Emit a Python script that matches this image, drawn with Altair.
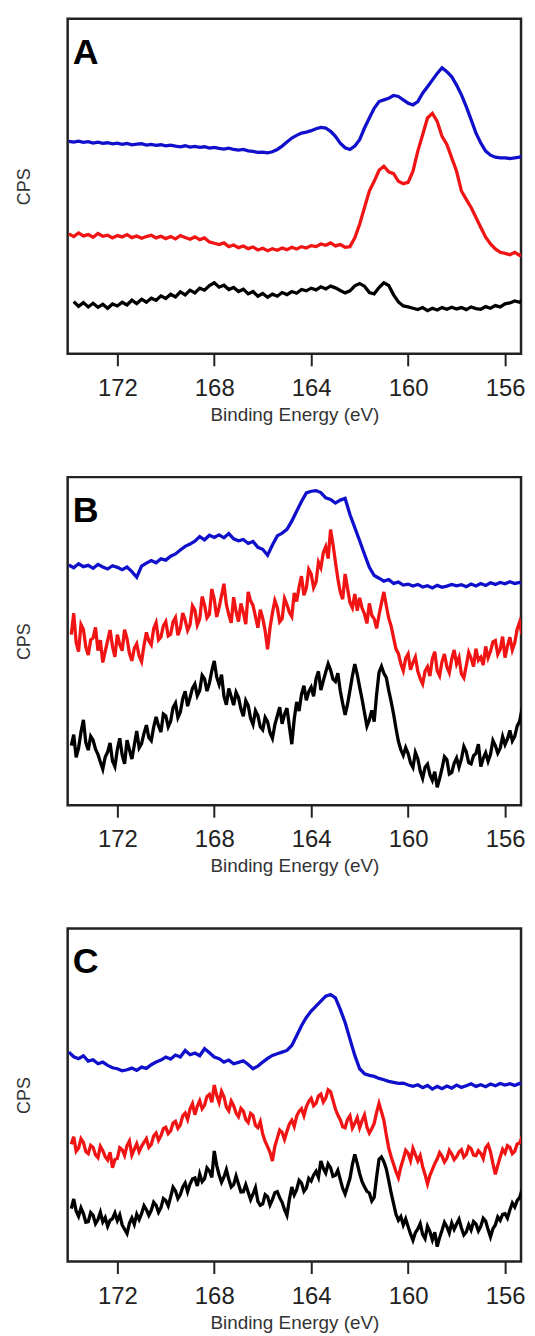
import altair as alt
import pandas as pd

# Binding energy grid (eV), 0.2 eV steps
energy = [174.0, 173.8, 173.6, 173.4, 173.2, 173.0, 172.8, 172.6, 172.4, 172.2,
          172.0, 171.8, 171.6, 171.4, 171.2, 171.0, 170.8, 170.6, 170.4, 170.2,
          170.0, 169.8, 169.6, 169.4, 169.2, 169.0, 168.8, 168.6, 168.4, 168.2,
          168.0, 167.8, 167.6, 167.4, 167.2, 167.0, 166.8, 166.6, 166.4, 166.2,
          166.0, 165.8, 165.6, 165.4, 165.2, 165.0, 164.8, 164.6, 164.4, 164.2,
          164.0, 163.8, 163.6, 163.4, 163.2, 163.0, 162.8, 162.6, 162.4, 162.2,
          162.0, 161.8, 161.6, 161.4, 161.2, 161.0, 160.8, 160.6, 160.4, 160.2,
          160.0, 159.8, 159.6, 159.4, 159.2, 159.0, 158.8, 158.6, 158.4, 158.2,
          158.0, 157.8, 157.6, 157.4, 157.2, 157.0, 156.8, 156.6, 156.4, 156.2,
          156.0, 155.8, 155.6, 155.4, 155.2, 155.0]

# Binding energy grid (eV), 0.1 eV steps (noisier scans)
energy_fine = [
    174.0, 173.9, 173.8, 173.7, 173.6, 173.5, 173.4, 173.3, 173.2, 173.1,
    173.0, 172.9, 172.8, 172.7, 172.6, 172.5, 172.4, 172.3, 172.2, 172.1,
    172.0, 171.9, 171.8, 171.7, 171.6, 171.5, 171.4, 171.3, 171.2, 171.1,
    171.0, 170.9, 170.8, 170.7, 170.6, 170.5, 170.4, 170.3, 170.2, 170.1,
    170.0, 169.9, 169.8, 169.7, 169.6, 169.5, 169.4, 169.3, 169.2, 169.1,
    169.0, 168.9, 168.8, 168.7, 168.6, 168.5, 168.4, 168.3, 168.2, 168.1,
    168.0, 167.9, 167.8, 167.7, 167.6, 167.5, 167.4, 167.3, 167.2, 167.1,
    167.0, 166.9, 166.8, 166.7, 166.6, 166.5, 166.4, 166.3, 166.2, 166.1,
    166.0, 165.9, 165.8, 165.7, 165.6, 165.5, 165.4, 165.3, 165.2, 165.1,
    165.0, 164.9, 164.8, 164.7, 164.6, 164.5, 164.4, 164.3, 164.2, 164.1,
    164.0, 163.9, 163.8, 163.7, 163.6, 163.5, 163.4, 163.3, 163.2, 163.1,
    163.0, 162.9, 162.8, 162.7, 162.6, 162.5, 162.4, 162.3, 162.2, 162.1,
    162.0, 161.9, 161.8, 161.7, 161.6, 161.5, 161.4, 161.3, 161.2, 161.1,
    161.0, 160.9, 160.8, 160.7, 160.6, 160.5, 160.4, 160.3, 160.2, 160.1,
    160.0, 159.9, 159.8, 159.7, 159.6, 159.5, 159.4, 159.3, 159.2, 159.1,
    159.0, 158.9, 158.8, 158.7, 158.6, 158.5, 158.4, 158.3, 158.2, 158.1,
    158.0, 157.9, 157.8, 157.7, 157.6, 157.5, 157.4, 157.3, 157.2, 157.1,
    157.0, 156.9, 156.8, 156.7, 156.6, 156.5, 156.4, 156.3, 156.2, 156.1,
    156.0, 155.9, 155.8, 155.7, 155.6, 155.5, 155.4, 155.3, 155.2, 155.1,
    155.0]

# ---- Panel A ----
a_blue = [63.4, 63.2, 63.5, 63.1, 63.3, 62.9, 63.2, 62.8, 63.0, 62.7, 62.9,
          62.5, 62.8, 62.4, 62.6, 62.7, 62.3, 62.5, 62.2, 62.4, 62.1,
          62.3, 62.0, 61.8, 62.1, 61.7, 61.9, 61.6, 61.8, 61.4, 61.6,
          61.3, 61.1, 61.4, 61.0, 60.8, 61.0, 60.6, 60.4, 60.1, 60.2,
          60.0, 60.3, 61.0, 62.0, 63.2, 64.4, 65.2, 65.9, 66.2, 66.6,
          67.2, 67.6, 67.4, 66.4, 64.9, 62.9, 61.5, 61.0, 62.0, 63.9,
          67.4, 70.4, 73.3, 75.3, 75.8, 76.3, 77.1, 76.8, 75.8, 74.8,
          74.3, 75.3, 77.8, 79.7, 81.7, 83.7, 85.4, 84.2, 82.7, 80.2,
          77.3, 73.8, 69.9, 65.9, 62.9, 60.5, 59.3, 58.7, 58.5, 58.5,
          58.3, 58.5, 58.7, 59.3, 59.5]
a_red = [35.8, 35.0, 36.1, 35.2, 35.6, 34.8, 35.9, 35.1, 35.4, 34.6, 35.3,
         34.9, 35.6, 34.7, 35.2, 34.5, 35.0, 35.4, 34.6, 35.1, 34.4,
         35.0, 34.3, 35.3, 34.7, 34.2, 34.9, 34.1, 34.6, 33.4, 33.0,
         32.6, 33.1, 32.0, 32.5, 31.7, 32.2, 31.4, 31.9, 31.0, 31.5,
         30.8, 31.4, 30.9, 31.6, 31.1, 31.8, 31.3, 32.0, 31.6, 32.3,
         32.0, 32.8, 32.4, 33.1, 32.2, 32.6, 31.8, 32.0, 34.6, 38.7,
         43.7, 48.6, 51.5, 54.8, 56.0, 54.3, 53.8, 51.5, 50.8, 51.2,
         54.5, 60.5, 65.4, 70.4, 71.8, 69.4, 64.9, 62.5, 58.5, 54.5,
         48.6, 46.1, 43.7, 40.7, 37.7, 34.8, 32.8, 31.3, 30.3, 30.0,
         29.6, 30.3, 29.4, 30.1, 30.8]
a_black = [None, 15.6, 14.2, 15.3, 14.0, 15.1, 13.9, 14.8, 13.6, 14.9, 14.3,
           15.4, 14.6, 16.0, 15.0, 16.3, 15.4, 16.6, 16.0, 17.3, 16.5,
           17.8, 17.0, 18.5, 17.6, 19.0, 18.2, 19.6, 19.0, 20.4, 21.2,
           19.9, 20.5, 19.2, 19.8, 18.6, 19.3, 17.9, 18.6, 17.2, 18.0,
           16.9, 17.8, 17.2, 18.3, 17.7, 18.6, 18.1, 19.2, 18.8, 19.6,
           19.1, 20.0, 19.4, 20.2, 19.7, 18.9, 18.2, 18.8, 20.3, 21.0,
           20.2, 18.3, 17.9, 19.8, 21.2, 20.4, 17.6, 15.5, 14.3, 14.0,
           13.6, 13.2, 13.8, 12.9, 13.6, 13.1, 13.8, 13.3, 13.9, 13.4,
           13.8, 13.2, 14.0, 13.5, 13.3, 14.1, 13.6, 14.4, 14.0, 14.9,
           15.2, 15.8, 15.4, 16.5, 17.6]

# ---- Panel B ----
b_blue = [73.2, 72.4, 73.6, 72.7, 73.1, 72.2, 73.4, 72.6, 72.0, 73.0, 72.5,
          71.8, 72.6, 71.2, 69.5, 72.9, 73.8, 74.6, 73.9, 75.1, 74.7,
          75.9, 76.6, 77.8, 78.9, 79.6, 80.5, 81.9, 80.9, 82.3, 81.6,
          82.4, 81.5, 82.8, 81.2, 80.6, 81.0, 79.8, 80.4, 78.6, 78.0,
          76.2, 79.3, 82.1, 82.9, 84.1, 86.6, 89.6, 92.6, 95.2, 95.7,
          95.9, 95.3, 93.7, 93.2, 92.1, 93.0, 93.5, 88.6, 84.6, 80.6,
          76.5, 72.5, 70.0, 69.2, 68.3, 68.8, 67.6, 68.0, 67.1, 67.4,
          66.8, 67.3, 66.5, 66.9, 66.2, 67.0, 66.4, 66.8, 67.3, 66.9,
          67.2, 66.6, 67.4, 66.8, 67.6, 67.0, 67.8, 67.3, 67.9, 67.5,
          68.1, 67.6, 67.9, 67.3, 66.9]
b_red = [
    None, 52.0, 58.5, 49.6, 46.8, 55.1, 53.6, 48.2, 45.8, 50.4,
    51.0, 54.2, 47.1, 50.3, 43.5, 46.9, 50.2, 53.4, 48.5, 45.2,
    52.0, 49.0, 47.1, 53.5, 50.8, 46.3, 44.0, 47.8, 49.2, 45.5,
    43.8, 48.7, 52.7, 50.1, 48.9, 53.8, 55.6, 50.4, 51.3, 54.7,
    56.0, 51.6, 52.1, 55.9, 57.2, 51.8, 53.9, 58.6, 56.4, 53.3,
    55.0, 60.8, 59.5, 54.9, 56.8, 63.6, 61.0, 57.1, 58.2, 65.9,
    62.8, 57.4, 60.3, 63.9, 67.5, 61.2, 58.1, 55.6, 63.4, 59.0,
    56.0, 61.5, 58.7, 55.2, 65.0, 62.3, 60.9, 57.5, 54.1, 59.6,
    57.0, 53.2, 47.5, 54.0, 58.6, 62.4, 60.3, 55.9, 56.8, 63.0,
    61.2, 58.8, 57.5, 64.7, 62.1, 66.5, 69.8, 64.0, 66.2, 71.9,
    70.5, 66.3, 68.0, 74.1, 72.4, 77.0, 78.8, 75.2, 84.0, 79.5,
    74.2, 69.0, 65.0, 62.8, 70.5, 66.1, 61.8, 60.2, 64.4, 59.3,
    63.2, 60.1, 58.3, 55.4, 61.5, 57.9, 56.8, 53.9, 58.0, 61.6,
    65.0, 60.8, 57.0, 54.6, 51.0, 47.6, 46.2, 43.1, 41.0, 44.8,
    46.1, 41.3, 43.5, 45.2, 40.8, 38.6, 37.0, 40.9, 42.2, 39.4,
    44.6, 46.8, 41.0, 39.5, 43.8, 46.1, 42.2, 40.4, 44.5, 47.3,
    43.1, 45.0, 40.0, 38.8, 42.5, 46.6, 44.8, 42.3, 47.7, 44.2,
    45.1, 42.7, 48.4, 44.9, 46.9, 49.8, 50.2, 46.0, 47.5, 51.4,
    45.0, 48.6, 51.2, 47.3, 49.5, 53.7, 55.8, 52.0, 60.1, 57.4,
    55.2]
b_black = [
    None, 18.2, 21.5, 14.6, 17.4, 22.3, 26.0, 19.1, 16.8, 21.0,
    19.8, 17.1, 15.5, 13.2, 11.0, 14.7, 16.2, 19.0, 13.5, 11.8,
    17.0, 20.4, 15.3, 12.6, 19.8, 16.9, 14.1, 18.3, 22.6, 17.5,
    18.8, 21.9, 24.4, 20.6, 19.7, 23.8, 26.9, 24.2, 22.3, 27.8,
    27.2, 23.9, 25.6, 29.8, 31.1, 26.7, 28.4, 32.5, 34.7, 30.2,
    32.8, 35.6, 36.9, 33.4, 35.0, 39.6, 38.5, 34.8, 37.2, 41.0,
    44.0, 39.1, 36.8, 39.8, 33.2, 30.6, 35.6, 33.1, 30.5, 34.4,
    32.8, 29.4, 27.1, 31.9, 30.4, 26.5, 24.6, 28.8, 27.3, 23.9,
    23.0, 26.8, 25.5, 22.1, 20.4, 24.5, 27.2, 29.9, 24.8, 27.7,
    29.6, 24.0, 18.6, 26.2, 31.5, 28.7, 33.8, 36.4, 32.0, 34.6,
    36.0, 33.2, 38.5, 40.8, 35.1, 37.9, 40.6, 43.1, 41.2, 38.4,
    37.7, 40.2, 34.9, 31.0, 27.5, 30.8, 35.0, 39.4, 43.0, 39.9,
    36.0, 32.3, 28.2, 24.1, 26.0, 28.9, 25.5, 33.8, 40.5, 42.3,
    40.2, 38.9, 35.0, 31.6, 27.8, 23.4, 19.5, 16.9, 15.2, 17.6,
    15.8, 12.9, 11.5, 16.1, 14.2, 10.4, 8.2, 11.6, 12.5, 9.3,
    7.6, 10.2, 5.5, 8.1, 11.2, 14.8, 13.9, 9.5, 10.0, 12.8,
    14.4, 11.6, 14.1, 17.9, 16.3, 13.0, 12.6, 15.1, 15.8, 18.6,
    11.8, 14.3, 16.0, 13.4, 15.5, 19.7, 18.2, 15.9, 17.4, 20.9,
    18.5, 20.2, 22.8, 19.6, 21.0, 24.1, 25.5, 29.3, 30.8, 28.1,
    27.0]

# ---- Panel C ----
c_blue = [62.9, 61.5, 60.9, 61.8, 60.2, 60.6, 59.4, 59.9, 58.9, 58.2, 57.9,
          57.3, 57.6, 58.1, 57.4, 58.4, 58.0, 59.1, 59.9, 60.5, 61.4,
          60.8, 62.0, 61.4, 63.4, 62.1, 62.6, 61.8, 63.9, 62.7, 61.4,
          60.9, 59.9, 60.5, 59.4, 59.8, 60.3, 59.2, 57.9, 58.7, 59.9,
          61.0, 61.9, 62.4, 62.9, 63.4, 64.9, 67.8, 70.8, 73.3, 75.2,
          76.7, 78.2, 79.7, 80.2, 79.2, 75.7, 71.8, 66.8, 61.9, 57.9,
          56.4, 55.9, 55.6, 55.0, 54.6, 54.1, 53.8, 53.5, 53.6, 53.0,
          52.6, 53.1, 52.2, 52.9, 51.8, 52.6, 51.9, 52.7, 52.1, 53.0,
          52.3, 52.8, 53.4, 52.6, 53.1, 52.5, 53.3, 52.8, 53.5, 53.0,
          53.4, 52.9, 53.5, 53.8, 54.2]
c_red = [
    None, 35.2, 37.5, 33.1, 34.0, 36.9, 35.8, 33.0, 32.4, 34.9,
    34.3, 32.0, 31.2, 34.6, 33.3, 31.5, 30.5, 32.8, 28.2, 30.6,
    31.0, 34.2, 33.6, 31.9, 34.8, 36.2, 32.0, 33.7, 35.4, 33.0,
    34.6, 35.8, 36.9, 34.3, 35.2, 37.7, 38.6, 36.4, 37.8, 39.9,
    40.3, 38.4, 39.2, 41.6, 42.1, 40.0, 41.0, 43.8, 44.6, 42.7,
    45.8, 47.4, 44.1, 46.6, 48.3, 45.9, 47.0, 49.6, 50.2, 47.8,
    53.0, 49.9, 47.8, 51.1, 49.5, 46.4, 45.3, 48.2, 46.8, 44.6,
    43.5, 46.0, 45.2, 42.7, 41.8, 44.5, 43.9, 40.9, 40.2, 42.0,
    38.3, 36.1, 34.5, 32.8, 30.2, 34.6, 37.0, 39.5, 38.8, 36.7,
    39.1, 41.3, 42.4, 40.6, 43.6, 45.1, 45.9, 43.8, 46.5, 48.1,
    49.0, 46.8, 47.5, 49.7, 50.3, 47.9, 49.1, 51.6, 51.0, 48.4,
    45.8, 44.0, 42.6, 40.5, 40.2, 42.7, 43.8, 40.1, 41.5, 43.2,
    40.2, 42.3, 44.0, 40.4, 38.6, 39.9, 41.5, 44.8, 47.5, 45.0,
    42.4, 38.0, 34.1, 31.5, 29.2, 27.0, 25.2, 28.4, 30.8, 33.4,
    32.5, 30.3, 34.0, 32.1, 30.2, 31.8, 28.5, 26.1, 23.3, 25.9,
    27.6, 29.4, 30.8, 32.7, 31.6, 29.9, 31.0, 33.4, 32.3, 30.6,
    31.5, 32.9, 33.6, 31.4, 32.2, 34.5, 33.9, 32.0, 31.8, 33.3,
    32.5, 30.9, 34.2, 35.1, 33.0, 29.4, 26.2, 28.9, 31.4, 33.7,
    32.6, 34.8, 34.3, 32.4, 33.1, 35.3, 35.6, 37.4, 36.0, 34.4,
    37.2]
c_black = [
    None, 15.9, 18.8, 15.2, 13.6, 16.1, 14.4, 11.8, 12.0, 14.7,
    13.9, 11.4, 12.6, 14.8, 11.9, 13.2, 10.6, 12.4, 12.9, 14.6,
    12.3, 14.0, 11.0, 9.7, 8.4, 11.5, 13.1, 11.2, 14.2, 12.6,
    14.4, 16.8, 15.6, 13.9, 15.4, 17.8, 16.9, 14.8, 16.2, 18.9,
    18.3, 16.7, 19.4, 22.3, 21.2, 18.9, 20.1, 22.4, 23.6, 21.0,
    23.3, 24.8, 25.1, 22.7, 26.3, 24.0, 24.9, 28.1, 27.2, 25.3,
    33.2, 28.9, 26.0, 23.8, 25.4, 27.6, 24.7, 22.4, 23.1, 25.7,
    23.3, 20.9, 21.0, 23.1, 20.8, 18.6, 20.3, 22.2, 18.1, 16.9,
    17.3, 20.1, 19.5, 17.0, 18.6, 20.7, 21.0, 19.2, 17.8, 15.6,
    13.9, 18.7, 22.4, 20.0, 21.6, 24.4, 23.6, 21.1, 22.1, 25.0,
    24.2, 26.0, 27.1, 25.3, 30.2, 28.0, 26.6, 29.3, 28.2, 25.6,
    25.9, 27.4, 24.7, 22.0, 20.3, 22.6, 25.0, 29.1, 32.2, 29.5,
    26.4, 24.0, 22.5, 21.1, 20.6, 18.2, 19.3, 25.4, 30.7, 31.4,
    30.0, 27.8, 24.3, 20.6, 17.4, 14.2, 12.4, 13.5, 11.0, 12.8,
    10.5, 8.3, 6.4, 8.7, 9.8, 11.4, 8.2, 6.9, 10.6, 9.0,
    6.5, 8.8, 4.5, 7.2, 9.4, 11.8, 10.5, 8.6, 11.6, 9.7,
    11.3, 12.7, 10.1, 8.0, 8.9, 11.1, 9.5, 12.0, 11.3, 9.2,
    10.6, 13.0, 12.2, 9.6, 7.4, 9.9, 11.0, 13.4, 12.4, 14.2,
    14.4, 13.1, 15.5, 17.6, 16.4, 18.3, 19.2, 21.5, 20.3, 18.7,
    19.4]

trace_names = ["blue", "red", "black"]
trace_colors = ["#1010cc", "#f01414", "#000000"]
tick_values = [172, 168, 164, 160, 156]
FONT = "Liberation Sans"
PLOT_W = 456


def panel(letter, traces, height):
    rows = []
    for name, grid, vals in traces:
        assert len(vals) == len(grid), (letter, name, len(vals), len(grid))
        for e, v in zip(grid, vals):
            if v is not None:
                rows.append({"energy": e, "cps": v, "trace": name})
    df = pd.DataFrame(rows)
    x = alt.X("energy:Q",
              scale=alt.Scale(domain=[174.05, 155.34], nice=False, zero=False),
              axis=alt.Axis(values=tick_values, format="d",
                            title="Binding Energy (eV)", grid=False,
                            domain=False, tickSize=12, tickWidth=2,
                            tickColor="#222222", labelFontSize=24,
                            labelFont=FONT, labelColor="#222222",
                            labelPadding=11, titleFont=FONT,
                            titleFontSize=19, titleFontWeight="normal",
                            titleColor="#333333", titlePadding=5))
    y = alt.Y("cps:Q",
              scale=alt.Scale(domain=[0, 100], nice=False, zero=False),
              axis=alt.Axis(title="CPS", labels=False, ticks=False,
                            domain=False, grid=False, titleFont=FONT,
                            titleFontSize=18, titleFontWeight="normal",
                            titleColor="#333333", titlePadding=34))
    lines = alt.Chart(df).mark_line(strokeWidth=3.3, clip=True).encode(
        x=x, y=y,
        color=alt.Color("trace:N",
                        scale=alt.Scale(domain=trace_names, range=trace_colors),
                        legend=None),
    )
    label = alt.Chart(pd.DataFrame({"t": [letter]})).mark_text(
        align="left", baseline="alphabetic", fontSize=36,
        fontWeight="bold", font=FONT, color="#000000"
    ).encode(text="t:N", x=alt.value(5), y=alt.value(45))
    return alt.layer(lines, label).properties(width=PLOT_W, height=height)


chart = alt.vconcat(
    panel("A", [("blue", energy, a_blue), ("red", energy, a_red),
                ("black", energy, a_black)], 337),
    panel("B", [("blue", energy, b_blue), ("red", energy_fine, b_red),
                ("black", energy_fine, b_black)], 330),
    panel("C", [("blue", energy, c_blue), ("red", energy_fine, c_red),
                ("black", energy_fine, c_black)], 335),
    spacing=49,
).properties(
    padding={"left": 6, "top": 5, "right": 0, "bottom": 0},
    background="white",
).configure_view(
    stroke="#222222", strokeWidth=2.5
)

chart.save("out.html", embed_options={"renderer": "svg", "actions": False})
